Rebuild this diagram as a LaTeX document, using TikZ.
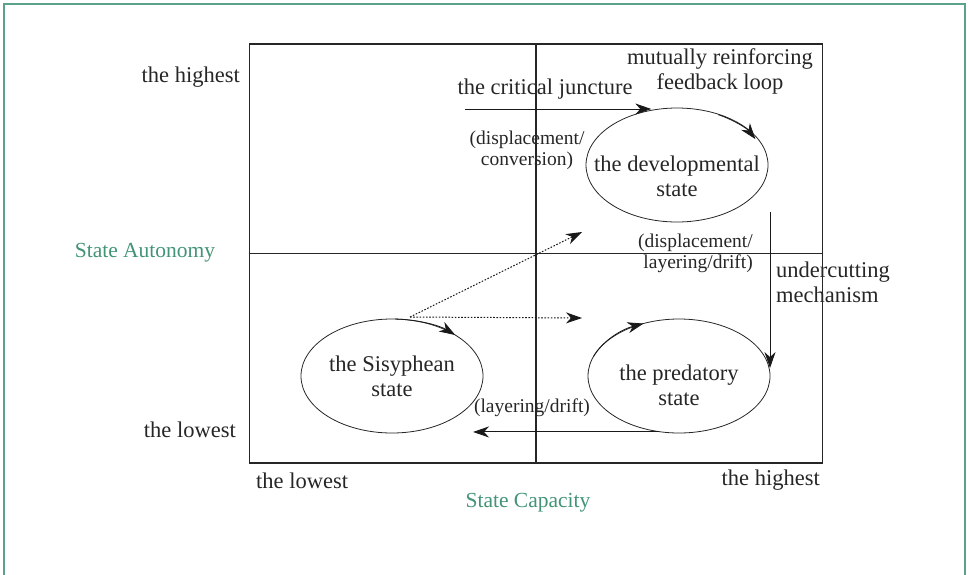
\documentclass[tikz,border=0pt]{standalone}
\usepackage{fontspec}
\setmainfont{Liberation Serif}
\usetikzlibrary{shapes.geometric,arrows.meta}
\definecolor{framegreen}{RGB}{92,162,136}
\definecolor{axisgreen}{RGB}{66,148,116}
\begin{document}
\begin{tikzpicture}[
  x=1pt, y=-1pt,
  big text/.style={
    font=\fontsize{22.5}{25}\selectfont,
    text=black!85,
    inner sep=0pt,
    align=center
  },
  small text/.style={
    font=\fontsize{19.5}{21}\selectfont,
    text=black!85,
    inner sep=0pt,
    align=center
  },
  axis title/.style={
    font=\fontsize{21.5}{24}\selectfont,
    text=axisgreen,
    inner sep=0pt
  },
  state/.style={
    draw=black!85,
    ellipse,
    line width=0.8pt,
    minimum width=182pt,
    minimum height=114pt,
    inner sep=0pt
  },
  flow/.style={
    draw=black!90,
    line width=1pt,
    -{Stealth[length=16pt,width=11pt,inset=5pt]}
  },
  loop flow/.style={
    flow,
    line width=0.8pt
  },
  dotted flow/.style={
    flow,
    dash pattern=on 1.6pt off 1.6pt
  }
]
\useasboundingbox (0,0) rectangle (968,574);
\draw[framegreen, line width=1.5pt] (4,580) -- (4,4) -- (965,4) -- (965,580);

% quadrant chart
\node[draw=black!85, line width=1.3pt, minimum width=573pt, minimum height=419pt,
  inner sep=0pt] (chart) at (536,253.5) {};
\draw[black!85, line width=1.3pt] (chart.north) -- (chart.south);
\draw[black!85, line width=1.3pt] (chart.west) -- (chart.east);

% axis labels
\node[big text, anchor=east] (yhigh) at (240,77) {the highest};
\node[big text, anchor=east] (ylow) at (236,430) {the lowest};
\node[axis title] (autonomy) at (145,253) {State Autonomy};
\node[big text, anchor=west] (xlow) at (256,481) {the lowest};
\node[big text, anchor=east] (xhigh) at (820,480) {the highest};
\node[axis title] (capacity) at (528,503) {State Capacity};

% states
\node[state, label={[big text, yshift=-11pt]center:the developmental\\state}]
  (dev) at (677,165) {};
\node[state, label={[big text, yshift=-9pt]center:the predatory\\state}]
  (pred) at (679,376) {};
\node[state, label={[big text]center:the Sisyphean\\state}]
  (sis) at (392,376) {};

% feedback arrow tips on the ellipses (y axis points down)
\draw[loop flow] (dev.center) ++(-62:88 and 57)
  arc[start angle=-62, end angle=-27, x radius=88, y radius=57];
\draw[loop flow] (pred.center) ++(-160:91 and 57)
  arc[start angle=-160, end angle=-113, x radius=91, y radius=57];
\draw[loop flow] (sis.center) ++(-88:91 and 57)
  arc[start angle=-88, end angle=-46, x radius=91, y radius=57];

% free ends
\coordinate (cj start) at (465,109);
\coordinate (uc start) at (770,212);
\coordinate (lay end) at (473,433);
\coordinate (dot start) at (410,317);
\coordinate (dot up) at (582,232);
\coordinate (dot right) at (582,318);

% paths
\draw[flow] (cj start) -- (cj start -| dev.115);
\draw[flow] (uc start) -- (uc start |- pred.5);
\draw[flow] (pred.250) -- (pred.250 -| lay end);
\draw[dotted flow] (dot start) -- (dot up);
\draw[dotted flow] (dot start) -- (dot right);

% path labels
\node[big text] (cj) at (545,89) {the critical juncture};
\node[big text] (loop) at (720,71) {mutually reinforcing\\feedback loop};
\node[small text] (conv) at (527,150) {(displacement/\\conversion)};
\node[small text, anchor=east, align=right] (ldrift) at (753,253)
  {(displacement/\\layering/drift)};
\node[big text, anchor=west, align=left] (uc) at (776,282)
  {undercutting\\mechanism};
\node[small text] (drift) at (532,408) {(layering/drift)};
\end{tikzpicture}
\end{document}
